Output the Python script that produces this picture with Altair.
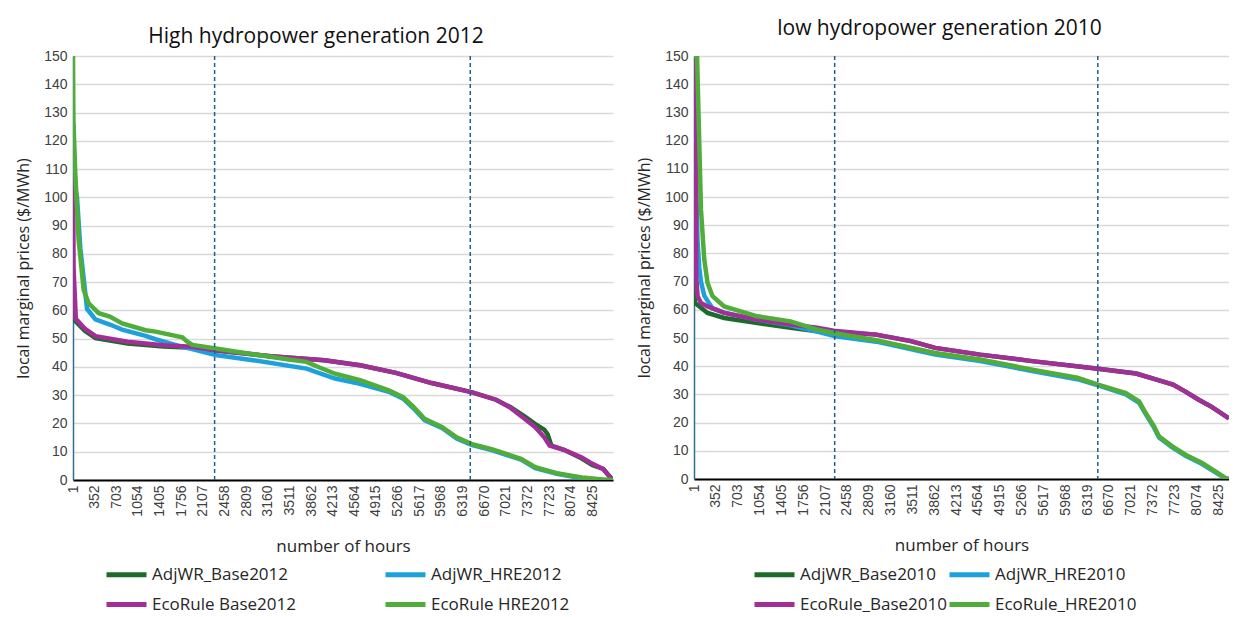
import altair as alt
import pandas as pd

# ---------------- data ----------------
x_tick_labels = [1 + 351 * k for k in range(25)]  # 1, 352, ..., 8425
y_tick_labels = list(range(0, 151, 10))

# ---- High hydropower generation 2012 ----
names_2012 = ["AdjWR_Base2012", "AdjWR_HRE2012", "EcoRule Base2012", "EcoRule HRE2012"]
dashed_2012 = [2298, 6445]

adj_base12_h = [1, 47, 192, 366, 888, 1468, 1932, 2315, 3208, 4078, 4658, 5238, 5818, 6462, 6862, 7094,
                7326, 7500, 7645, 7700, 7760, 7964, 8254, 8428, 8602, 8718, 8760]
adj_base12_v = [60, 56, 52.8, 50.2, 48.3, 47.2, 46.8, 45.8, 43.8, 42.4, 40.6, 37.9, 34.3, 31.1, 28.4, 25.8,
                22.5, 19.8, 17.8, 16.2, 12.2, 10.7, 7.6, 5.2, 3.9, 0.9, 0]

adj_hre12_h = [1, 40, 66, 120, 201, 229, 364, 598, 798, 1178, 1339, 1758, 1932, 2315, 2918, 3788, 4252,
               4658, 5122, 5355, 5528, 5702, 5992, 6224, 6462, 6805, 7268, 7500, 7848, 8254, 8500, 8760]
adj_hre12_v = [110, 103, 100, 82, 66, 60.5, 56.8, 55, 53.2, 51, 49.8, 47.2, 46.3, 44.2, 42.4, 39.4, 35.9,
               34, 31.2, 28.8, 25.3, 21.2, 18.3, 14.7, 12.4, 10.5, 7.2, 4.2, 2.2, 0.6, 0, 0]

eco_base12_h = [1, 10, 47, 192, 366, 888, 1468, 1932, 2315, 3208, 4078, 4658, 5238, 5818, 6462, 6862, 7094,
                7326, 7500, 7645, 7732, 7964, 8254, 8428, 8602, 8718, 8760]
eco_base12_v = [126, 75, 57, 53.6, 50.9, 48.9, 47.7, 47.1, 45.9, 43.8, 42.4, 40.6, 37.9, 34.3, 31.1, 28.4, 25.6,
                21.7, 18.7, 15.1, 12.2, 10.7, 8, 5.7, 3.9, 0.9, 0]

eco_hre12_h = [1, 8, 38, 92, 174, 255, 418, 598, 798, 1178, 1339, 1773, 1850, 1936, 2315, 2918, 3500, 3788,
               4000, 4252, 4658, 5122, 5355, 5528, 5702, 5992, 6224, 6462, 6805, 7268, 7500, 7848, 8254, 8600, 8760]
eco_hre12_v = [150, 127, 108.5, 85, 67.2, 62.5, 59, 57.8, 55.4, 53, 52.5, 50.5, 49, 47.8, 46.5, 44.5, 42.6, 41.8,
               39.8, 37.6, 35.3, 31.7, 29.3, 25.8, 21.7, 18.7, 15.1, 12.8, 10.8, 7.5, 4.5, 2.4, 0.9, 0.2, 0]

# ---- low hydropower generation 2010 ----
names_2010 = ["AdjWR_Base2010", "AdjWR_HRE2010", "EcoRule_Base2010", "EcoRule_HRE2010"]
dashed_2010 = [2262, 6491]

adj_base10_h = [1, 17, 219, 486, 1019, 1553, 1980, 2246, 2930, 3487, 3877, 4601, 5437, 6495, 7107, 7475,
                7700, 7900, 8100, 8328, 8600]
adj_base10_v = [75, 62.4, 58.9, 57.1, 55.3, 53.6, 52.4, 52.2, 51.2, 48.9, 46.5, 44.1, 41.8, 39.1, 37.4, 35,
                33.5, 31, 28.3, 25.5, 21.5]

adj_hre10_h = [1, 40, 59, 86, 113, 166, 299, 486, 1019, 1553, 1980, 2273, 2930, 3877, 4601, 5437, 6161, 6495,
               6941, 7155, 7261, 7395, 7475, 7688, 7901, 8168, 8381, 8541, 8600]
adj_hre10_v = [150, 100, 84, 75, 70, 65, 60.5, 59, 56.5, 54.5, 52.3, 50.6, 48.7, 44.1, 41.8, 38.3, 35.4, 33.2,
               30, 27, 23, 18.2, 14.7, 11.2, 8.2, 5.3, 2.4, 0.2, 0]

eco_base10_h = [1, 33, 36, 59, 113, 219, 486, 1019, 1553, 1980, 2246, 2930, 3487, 3877, 4601, 5437, 6495,
                7107, 7475, 7700, 7900, 8100, 8328, 8600]
eco_base10_v = [150, 150, 71.9, 64.8, 62.4, 61.2, 58.9, 56.5, 54.8, 53.6, 52.6, 51.2, 48.9, 46.5, 44.1, 41.8,
                39.1, 37.4, 35, 33.5, 31, 28.3, 25.5, 21.5]

eco_hre10_h = [1, 50, 86, 113, 166, 219, 299, 486, 1019, 1553, 1980, 2246, 2930, 3877, 4601, 5437, 6161, 6495,
               6941, 7155, 7261, 7395, 7475, 7688, 7901, 8168, 8381, 8541, 8600]
eco_hre10_v = [150, 150, 119, 95.6, 77.8, 69.5, 64.8, 61.2, 57.7, 55.9, 53, 51.8, 49.2, 44.7, 42.4, 38.8, 35.9,
               33.5, 30.5, 27.5, 23.4, 18.7, 15.1, 11.6, 8.6, 5.7, 2.7, 0.4, 0]

colors = ["#1d6b2b", "#1ea0dc", "#a12f97", "#51ad39"]

# ---------------- styling helpers ----------------
TITLE_FONT = "Open Sans"
TICK_FONT = "Liberation Sans"


def make_df(names, series):
    rows = []
    for name, (hs, vs) in zip(names, series):
        for h, v in zip(hs, vs):
            rows.append({"series": name, "hour": h, "price": v})
    return pd.DataFrame(rows)


def panel(names, series, dashed, title, xmax, width, height, title_offset, title_dx,
          legend_x, legend_y, col_pad):
    df = make_df(names, series)
    xs = alt.Scale(domain=[1, xmax], nice=False, zero=False)
    ys = alt.Scale(domain=[0, 150], nice=False, zero=True)
    xaxis = alt.Axis(values=x_tick_labels, format="d", labelAngle=270, grid=False, ticks=False,
                     domainColor="#000000", domainWidth=2, labelFont=TICK_FONT, labelFontSize=14,
                     labelColor="#404040", labelPadding=5, labelOverlap=False, labelFlush=False,
                     labelBound=False, title="number of hours", titleFont=TITLE_FONT,
                     titleFontSize=17, titleFontWeight="normal", titleColor="#262626", titlePadding=22)
    yaxis = alt.Axis(values=y_tick_labels, grid=True, gridColor="#d9d9d9", gridWidth=1.5, ticks=False,
                     domainColor="#2f6f8f", domainWidth=1.5, labelFont=TICK_FONT, labelFontSize=14,
                     labelColor="#404040", labelPadding=6, title="local marginal prices ($/MWh)",
                     titleFont=TITLE_FONT, titleFontSize=16, titleFontWeight="normal",
                     titleColor="#262626", titlePadding=12)
    legend = alt.Legend(title=None, orient="none", legendX=legend_x, legendY=legend_y, columns=2,
                        direction="horizontal",
                        symbolType="M-2,0H2", symbolSize=400, symbolStrokeWidth=5, symbolOffset=10,
                        labelOffset=13,
                        labelFont=TITLE_FONT, labelFontSize=17, labelColor="#262626",
                        columnPadding=col_pad, rowPadding=7, labelLimit=300)
    cscale = alt.Scale(domain=names, range=colors)
    layers = []
    for name in names:
        layers.append(
            alt.Chart(df).transform_filter(alt.datum.series == name)
            .mark_line(strokeWidth=4.5, clip=True)
            .encode(x=alt.X("hour:Q", scale=xs, axis=xaxis),
                    y=alt.Y("price:Q", scale=ys, axis=yaxis),
                    color=alt.Color("series:N", scale=cscale, legend=legend))
        )
    rules = alt.Chart(pd.DataFrame({"hour": dashed})).mark_rule(
        color="#1f5f8b", strokeDash=[4, 3], strokeWidth=1.5).encode(
        x=alt.X("hour:Q", scale=xs, axis=xaxis))
    layers.append(rules)
    return alt.layer(*layers).properties(
        width=width, height=height,
        title=alt.TitleParams(title, font=TITLE_FONT, fontSize=21, fontWeight="normal",
                              color="#111111", offset=title_offset, anchor="middle", dx=title_dx))


left = panel(names_2012,
             [(adj_base12_h, adj_base12_v), (adj_hre12_h, adj_hre12_v),
              (eco_base12_h, eco_base12_v), (eco_hre12_h, eco_hre12_v)],
             dashed_2012, "High hydropower generation 2012", 8760, 540, 424, 2, -27,
             31, 506, 79)
right = panel(names_2010,
              [(adj_base10_h, adj_base10_v), (adj_hre10_h, adj_hre10_v),
               (eco_base10_h, eco_base10_v), (eco_hre10_h, eco_hre10_v)],
              dashed_2010, "low hydropower generation 2010", 8600, 535, 423, 10, -22,
              58, 506, -9)

chart = alt.hconcat(left, right, spacing=23).resolve_scale(
    color="independent", x="independent", y="independent").resolve_legend(color="independent").properties(
    padding={"left": 15, "top": 18, "right": 0, "bottom": 0},
    background="white").configure_view(stroke=None)

chart.save("out.html", embed_options={"renderer": "svg", "actions": False})
